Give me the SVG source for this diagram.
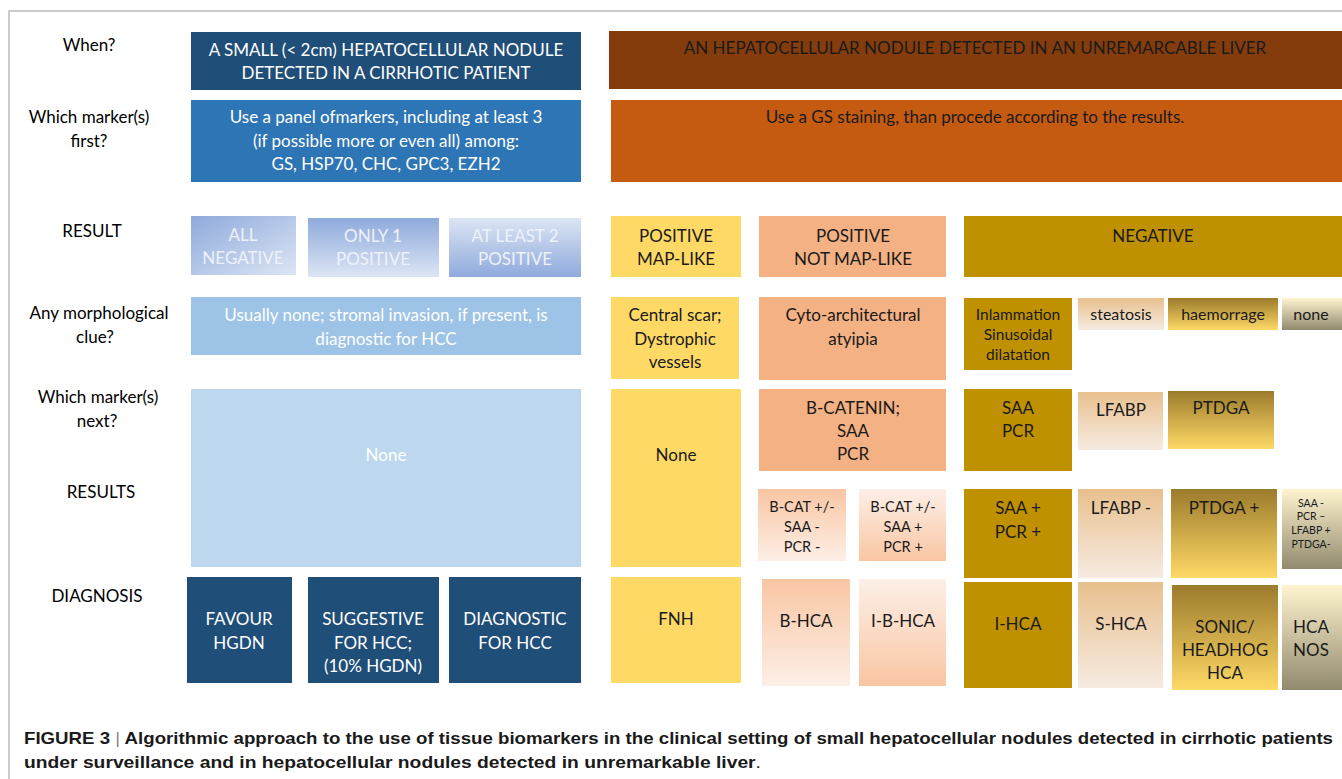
<svg xmlns="http://www.w3.org/2000/svg" width="1342" height="779" viewBox="0 0 1342 779">
<style>
text{font-family:Lato,"Open Sans","Liberation Sans",sans-serif;font-size:17px;text-anchor:middle}
.lbl{fill:#000}
.w{fill:#ffffff}
.wl{fill:#eef2fa}
.k{fill:#1a1a1a}
.sm{font-size:14.5px}
.md{font-size:16px}
.xs{font-size:10.5px}
.cap{font-family:"Liberation Sans Narrow","Liberation Sans",Arial,sans-serif;font-weight:bold;font-size:17px;text-anchor:start;fill:#1a1a1a}
</style>
<defs>
<linearGradient id="blueDiag" x1="0" y1="0" x2="1" y2="1"><stop offset="0" stop-color="#8FAADC"/><stop offset="1" stop-color="#DCE5F4"/></linearGradient>
<linearGradient id="blueDown" x1="0" y1="0" x2="0" y2="1"><stop offset="0" stop-color="#8FAADC"/><stop offset="1" stop-color="#DCE5F4"/></linearGradient>
<linearGradient id="blueUp" x1="0" y1="0" x2="0" y2="1"><stop offset="0" stop-color="#DCE5F4"/><stop offset="1" stop-color="#8FAADC"/></linearGradient>
<linearGradient id="tan" x1="0" y1="0" x2="0" y2="1"><stop offset="0" stop-color="#E8C08E"/><stop offset="1" stop-color="#F6EBE1"/></linearGradient>
<linearGradient id="gold" x1="0" y1="0" x2="0" y2="1"><stop offset="0" stop-color="#9C7B2C"/><stop offset="1" stop-color="#FFD966"/></linearGradient>
<linearGradient id="cream" x1="0" y1="0" x2="0" y2="1"><stop offset="0" stop-color="#FFF4CF"/><stop offset="1" stop-color="#928A6E"/></linearGradient>
<linearGradient id="peachDown" x1="0" y1="0" x2="0" y2="1"><stop offset="0" stop-color="#F9C6A3"/><stop offset="1" stop-color="#FDEFE7"/></linearGradient>
<linearGradient id="peachUp" x1="0" y1="0" x2="0" y2="1"><stop offset="0" stop-color="#FDEFE7"/><stop offset="1" stop-color="#F9C6A3"/></linearGradient>
</defs>
<rect x="0" y="0" width="1342" height="779" fill="#ffffff"/>
<g id="frame" stroke="#BBBBBB" stroke-width="1.5" fill="none">
<path d="M9 779 V11 H1342"/>
</g>
<g id="row-labels" class="lbl">
<text x="89" y="51">When?</text>
<text x="89" y="123">Which marker(s)</text>
<text x="89" y="147">first?</text>
<text x="92" y="237">RESULT</text>
<text x="99" y="319">Any morphological</text>
<text x="95" y="343">clue?</text>
<text x="98" y="403">Which marker(s)</text>
<text x="97" y="427">next?</text>
<text x="101" y="498">RESULTS</text>
<text x="97" y="602">DIAGNOSIS</text>
</g>
<g id="connectors"></g>
<g id="when-cirrhotic"><rect x="191" y="32" width="390" height="58" fill="#1F4E79"/><text class="w" x="386" y="56">A SMALL (&lt; 2cm) HEPATOCELLULAR NODULE</text><text class="w" x="386" y="79">DETECTED IN A CIRRHOTIC PATIENT</text></g>
<g id="marker-panel"><rect x="191" y="100" width="390" height="82" fill="#2E75B6"/><text class="w" x="386" y="123">Use a panel ofmarkers, including at least 3</text><text class="w" x="386" y="147">(if possible more or even all) among:</text><text class="w" x="386" y="170">GS, HSP70, CHC, GPC3, EZH2</text></g>
<g id="all-negative"><rect x="191" y="216" width="105" height="59" fill="url(#blueDiag)"/><text class="wl" x="243" y="241">ALL</text><text class="wl" x="243" y="264">NEGATIVE</text></g>
<g id="only-1"><rect x="308" y="218" width="131" height="59" fill="url(#blueDown)"/><text class="wl" x="373" y="242">ONLY 1</text><text class="wl" x="373" y="265">POSITIVE</text></g>
<g id="at-least-2"><rect x="449" y="218" width="132" height="59" fill="url(#blueUp)"/><text class="wl" x="515" y="242">AT LEAST 2</text><text class="wl" x="515" y="265">POSITIVE</text></g>
<g id="morph-left"><rect x="191" y="297" width="390" height="58" fill="#9DC3E6"/><text class="w" x="386" y="321">Usually none; stromal invasion, if present, is</text><text class="w" x="386" y="345">diagnostic for HCC</text></g>
<g id="none-left"><rect x="191" y="389" width="390" height="178" fill="#BDD7EE"/><text class="w" x="386" y="461">None</text></g>
<g id="favour-hgdn"><rect x="187" y="577" width="105" height="106" fill="#1F4E79"/><text class="w" x="239" y="625">FAVOUR</text><text class="w" x="239" y="649">HGDN</text></g>
<g id="suggestive-hcc"><rect x="308" y="577" width="131" height="106" fill="#1F4E79"/><text class="w" x="373" y="625">SUGGESTIVE</text><text class="w" x="373" y="649">FOR HCC;</text><text class="w" x="373" y="672">(10% HGDN)</text></g>
<g id="diagnostic-hcc"><rect x="449" y="577" width="132" height="106" fill="#1F4E79"/><text class="w" x="515" y="625">DIAGNOSTIC</text><text class="w" x="515" y="649">FOR HCC</text></g>

<g id="when-unremarkable"><rect x="609" y="31" width="733" height="58" fill="#843C0C"/><text class="k" x="975" y="54">AN HEPATOCELLULAR NODULE DETECTED IN AN UNREMARCABLE LIVER</text></g>
<g id="gs-staining"><rect x="611" y="100" width="731" height="82" fill="#C55A11"/><text class="k" x="975" y="123">Use a GS staining, than procede according to the results.</text></g>
<g id="pos-map"><rect x="611" y="216" width="130" height="61" fill="#FFD966"/><text class="k" x="676" y="242">POSITIVE</text><text class="k" x="676" y="265">MAP-LIKE</text></g>
<g id="pos-not-map"><rect x="759" y="216" width="187" height="61" fill="#F4B183"/><text class="k" x="853" y="242">POSITIVE</text><text class="k" x="853" y="265">NOT MAP-LIKE</text></g>
<g id="negative"><rect x="964" y="216" width="378" height="61" fill="#BF9000"/><text class="k" x="1153" y="242">NEGATIVE</text></g>
<g id="central-scar"><rect x="611" y="297" width="128" height="82" fill="#FFD966"/><text class="k" x="675" y="321">Central scar;</text><text class="k" x="675" y="345">Dystrophic</text><text class="k" x="675" y="368">vessels</text></g>
<g id="cyto"><rect x="759" y="297" width="187" height="83" fill="#F4B183"/><text class="k" x="853" y="321">Cyto-architectural</text><text class="k" x="853" y="345">atyipia</text></g>
<g id="inflammation"><rect x="964" y="298" width="108" height="72" fill="#BF9000"/><text class="k" style="font-size:15.5px" x="1018" y="320">Inlammation</text><text class="k" style="font-size:15.5px" x="1018" y="340">Sinusoidal</text><text class="k" style="font-size:15.5px" x="1018" y="360">dilatation</text></g>
<g id="steatosis"><rect x="1078" y="298" width="86" height="32" fill="url(#tan)"/><text class="k md" x="1121" y="320">steatosis</text></g>
<g id="haemorrage"><rect x="1168" y="298" width="110" height="32" fill="url(#gold)"/><text class="k md" x="1223" y="320">haemorrage</text></g>
<g id="none-morph"><rect x="1282" y="298" width="60" height="32" fill="url(#cream)"/><text class="k md" x="1311" y="320">none</text></g>
<g id="none-yellow"><rect x="611" y="389" width="130" height="178" fill="#FFD966"/><text class="k" x="676" y="461">None</text></g>
<g id="bcatenin"><rect x="759" y="389" width="187" height="82" fill="#F4B183"/><text class="k" x="853" y="414">B-CATENIN;</text><text class="k" x="853" y="437">SAA</text><text class="k" x="853" y="460">PCR</text></g>
<g id="saa-pcr"><rect x="964" y="389" width="108" height="82" fill="#BF9000"/><text class="k" x="1018" y="414">SAA</text><text class="k" x="1018" y="437">PCR</text></g>
<g id="lfabp"><rect x="1078" y="392" width="85" height="58" fill="url(#tan)"/><text class="k" x="1121" y="416">LFABP</text></g>
<g id="ptdga"><rect x="1168" y="391" width="106" height="58" fill="url(#gold)"/><text class="k" x="1221" y="414">PTDGA</text></g>
<g id="bcat-neg"><rect x="758" y="489" width="88" height="72" fill="url(#peachDown)"/><text class="k sm" x="802" y="512">B-CAT +/-</text><text class="k sm" x="802" y="532">SAA -</text><text class="k sm" x="802" y="552">PCR -</text></g>
<g id="bcat-pos"><rect x="859" y="489" width="87" height="72" fill="url(#peachUp)"/><text class="k sm" x="903" y="512">B-CAT +/-</text><text class="k sm" x="903" y="532">SAA +</text><text class="k sm" x="903" y="552">PCR +</text></g>
<g id="saa-pcr-pos"><rect x="964" y="489" width="108" height="89" fill="#BF9000"/><text class="k" x="1018" y="514">SAA +</text><text class="k" x="1018" y="538">PCR +</text></g>
<g id="lfabp-neg"><rect x="1078" y="489" width="85" height="89" fill="url(#tan)"/><text class="k" x="1121" y="514">LFABP -</text></g>
<g id="ptdga-pos"><rect x="1171" y="489" width="106" height="89" fill="url(#gold)"/><text class="k" x="1224" y="514">PTDGA +</text></g>
<g id="all-neg-right"><rect x="1282" y="489" width="60" height="80" fill="url(#cream)"/><text class="k xs" x="1311" y="507">SAA -</text><text class="k xs" x="1311" y="520">PCR –</text><text class="k xs" x="1311" y="534">LFABP +</text><text class="k xs" x="1311" y="548">PTDGA-</text></g>
<g id="fnh"><rect x="611" y="577" width="130" height="106" fill="#FFD966"/><text class="k" x="676" y="625">FNH</text></g>
<g id="b-hca"><rect x="762" y="579" width="88" height="107" fill="url(#peachDown)"/><text class="k" x="806" y="627">B-HCA</text></g>
<g id="i-b-hca"><rect x="859" y="579" width="87" height="107" fill="url(#peachUp)"/><text class="k" x="903" y="627">I-B-HCA</text></g>
<g id="i-hca"><rect x="964" y="582" width="108" height="106" fill="#BF9000"/><text class="k" x="1018" y="630">I-HCA</text></g>
<g id="s-hca"><rect x="1078" y="582" width="85" height="106" fill="url(#tan)"/><text class="k" x="1121" y="630">S-HCA</text></g>
<g id="sonic-hca"><rect x="1172" y="585" width="106" height="105" fill="url(#gold)"/><text class="k" x="1225" y="633">SONIC/</text><text class="k" x="1225" y="656">HEADHOG</text><text class="k" x="1225" y="679">HCA</text></g>
<g id="hca-nos"><rect x="1282" y="585" width="60" height="105" fill="url(#cream)"/><text class="k" x="1311" y="633">HCA</text><text class="k" x="1311" y="656">NOS</text></g>

<g id="caption">
<text class="cap" x="24" y="744" textLength="1309" lengthAdjust="spacingAndGlyphs">FIGURE 3 <tspan font-weight="normal" fill="#888">|</tspan> Algorithmic approach to the use of tissue biomarkers in the clinical setting of small hepatocellular nodules detected in cirrhotic patients</text>
<text class="cap" x="24" y="768" textLength="737" lengthAdjust="spacingAndGlyphs">under surveillance and in hepatocellular nodules detected in unremarkable liver<tspan font-weight="normal">.</tspan></text>
</g>
</svg>
